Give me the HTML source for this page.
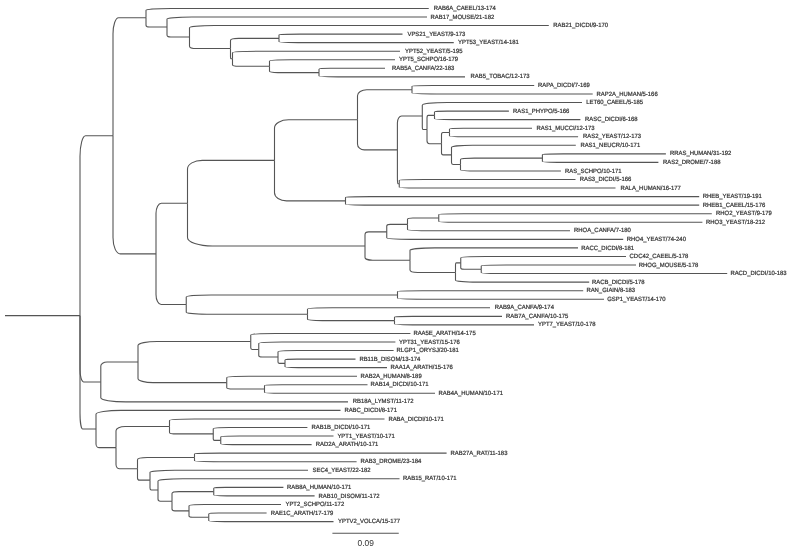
<!DOCTYPE html><html><head><meta charset="utf-8"><style>html,body{margin:0;padding:0;background:#fff;}svg{display:block;filter:blur(0.4px)}</style></head><body>
<svg width="800" height="548" viewBox="0 0 800 548">
<rect width="800" height="548" fill="#fff"/>
<g fill="none" stroke="#555" stroke-width="1.1">
<path d="M80.00,315.59V156.40C80.00,145.08 82.52,135.82 85.61,135.82H113.00"/>
<path d="M80.00,315.59V369.30C80.00,376.25 81.59,381.94 83.54,381.94H100.80"/>
<path d="M80.00,315.59V413.07C80.00,421.84 81.22,429.01 82.72,429.01H96.00"/>
<path d="M113.00,135.82V34.01C113.00,25.07 115.52,17.75 118.61,17.75H146.00"/>
<path d="M113.00,135.82V237.62C113.00,246.56 116.29,253.88 120.31,253.88H156.00"/>
<path d="M146.00,17.75V10.32C146.00,9.30 157.25,8.46 171.00,8.46H428.75"/>
<path d="M146.00,17.75V25.18C146.00,26.20 147.61,27.03 149.57,27.03H167.00"/>
<path d="M167.00,27.03V19.02C167.00,17.91 178.25,17.01 192.00,17.01H427.00"/>
<path d="M167.00,27.03V35.05C167.00,36.15 168.72,37.06 170.82,37.06H189.50"/>
<path d="M189.50,37.06V27.86C189.50,26.60 200.75,25.56 214.50,25.56H548.80"/>
<path d="M189.50,37.06V46.25C189.50,47.51 192.64,48.55 196.47,48.55H230.50"/>
<path d="M230.50,48.55V40.42C230.50,39.31 234.21,38.39 238.75,38.39H279.00"/>
<path d="M230.50,48.55V56.67C230.50,57.79 230.65,58.70 230.84,58.70H232.50"/>
<path d="M279.00,38.39V34.97C279.00,34.50 288.45,34.12 300.00,34.12H402.50"/>
<path d="M279.00,38.39V41.81C279.00,42.28 290.25,42.67 304.00,42.67H453.75"/>
<path d="M232.50,58.70V52.72C232.50,51.89 243.75,51.22 257.50,51.22H400.00"/>
<path d="M232.50,58.70V64.69C232.50,65.51 235.33,66.19 238.79,66.19H269.50"/>
<path d="M269.50,66.19V61.05C269.50,60.35 279.10,59.77 290.83,59.77H395.00"/>
<path d="M269.50,66.19V71.32C269.50,72.02 273.29,72.60 277.92,72.60H319.00"/>
<path d="M319.00,72.60V69.18C319.00,68.71 324.05,68.32 330.22,68.32H385.00"/>
<path d="M319.00,72.60V76.02C319.00,76.49 330.17,76.88 343.82,76.88H465.00"/>
<path d="M156.00,253.88V213.33C156.00,207.76 158.41,203.19 161.35,203.19H187.50"/>
<path d="M156.00,253.88V294.44C156.00,300.01 158.31,304.57 161.14,304.57H186.25"/>
<path d="M187.50,203.19V168.91C187.50,164.20 194.16,160.34 202.29,160.34H274.50"/>
<path d="M187.50,203.19V237.47C187.50,242.19 198.75,246.05 212.50,246.05H365.00"/>
<path d="M274.50,160.34V127.91C274.50,123.45 280.85,119.80 288.61,119.80H357.50"/>
<path d="M274.50,160.34V192.77C274.50,197.23 279.93,200.88 286.57,200.88H345.50"/>
<path d="M357.50,119.80V95.72C357.50,92.41 361.67,89.70 366.76,89.70H412.00"/>
<path d="M357.50,119.80V143.88C357.50,147.19 360.55,149.90 364.28,149.90H397.40"/>
<path d="M412.00,89.70V86.28C412.00,85.81 421.35,85.43 432.77,85.43H534.20"/>
<path d="M412.00,89.70V93.12C412.00,93.60 423.25,93.98 437.00,93.98H592.70"/>
<path d="M397.40,149.90V122.80C397.40,119.08 399.30,116.03 401.63,116.03H422.30"/>
<path d="M397.40,149.90V177.00C397.40,180.73 397.54,183.78 397.71,183.78H399.25"/>
<path d="M422.30,116.03V105.23C422.30,103.75 433.55,102.53 447.30,102.53H582.00"/>
<path d="M422.30,116.03V126.83C422.30,128.31 422.66,129.52 423.10,129.52H427.00"/>
<path d="M427.00,129.52V118.19C427.00,116.63 427.57,115.36 428.27,115.36H434.50"/>
<path d="M427.00,129.52V140.86C427.00,142.41 428.11,143.69 429.46,143.69H441.50"/>
<path d="M434.50,115.36V111.94C434.50,111.47 440.19,111.08 447.15,111.08H508.90"/>
<path d="M434.50,115.36V118.78C434.50,119.25 445.66,119.64 459.30,119.64H580.40"/>
<path d="M441.50,143.69V134.71C441.50,133.47 442.11,132.46 442.86,132.46H449.50"/>
<path d="M441.50,143.69V152.67C441.50,153.90 442.26,154.91 443.20,154.91H451.50"/>
<path d="M449.50,132.46V129.04C449.50,128.57 455.81,128.19 463.52,128.19H532.00"/>
<path d="M449.50,132.46V135.88C449.50,136.36 459.34,136.74 471.36,136.74H578.10"/>
<path d="M451.50,154.91V147.22C451.50,146.16 461.01,145.29 472.63,145.29H575.80"/>
<path d="M451.50,154.91V162.61C451.50,163.67 452.19,164.53 453.03,164.53H460.50"/>
<path d="M460.50,164.53V159.40C460.50,158.70 466.77,158.12 474.42,158.12H542.40"/>
<path d="M460.50,164.53V169.67C460.50,170.37 468.18,170.95 477.57,170.95H560.90"/>
<path d="M542.40,158.12V154.70C542.40,154.23 551.85,153.84 563.39,153.84H665.90"/>
<path d="M542.40,158.12V161.54C542.40,162.01 551.27,162.40 562.12,162.40H658.40"/>
<path d="M399.25,183.78V180.36C399.25,179.88 410.50,179.50 424.25,179.50H575.50"/>
<path d="M399.25,183.78V187.20C399.25,187.67 410.50,188.05 424.25,188.05H615.50"/>
<path d="M345.50,200.88V197.46C345.50,196.99 356.75,196.60 370.50,196.60H699.20"/>
<path d="M345.50,200.88V204.30C345.50,204.77 356.75,205.16 370.50,205.16H699.20"/>
<path d="M365.00,246.05V234.71C365.00,233.16 366.66,231.88 368.70,231.88H386.75"/>
<path d="M365.00,246.05V257.38C365.00,258.93 368.44,260.21 372.65,260.21H410.00"/>
<path d="M386.75,231.88V225.89C386.75,225.07 388.34,224.40 390.28,224.40H407.50"/>
<path d="M386.75,231.88V237.87C386.75,238.69 398.00,239.36 411.75,239.36H623.20"/>
<path d="M407.50,224.40V219.27C407.50,218.56 409.89,217.98 412.81,217.98H438.75"/>
<path d="M407.50,224.40V229.53C407.50,230.23 418.75,230.81 432.50,230.81H570.00"/>
<path d="M438.75,217.98V214.56C438.75,214.09 450.00,213.71 463.75,213.71H711.80"/>
<path d="M438.75,217.98V221.40C438.75,221.88 450.00,222.26 463.75,222.26H702.40"/>
<path d="M410.00,260.21V250.37C410.00,249.02 421.25,247.92 435.00,247.92H578.00"/>
<path d="M410.00,260.21V270.04C410.00,271.40 413.48,272.50 417.74,272.50H455.50"/>
<path d="M455.50,272.50V264.81C455.50,263.75 455.90,262.88 456.39,262.88H460.75"/>
<path d="M455.50,272.50V280.20C455.50,281.26 465.73,282.12 478.23,282.12H589.20"/>
<path d="M460.75,262.88V257.75C460.75,257.05 472.00,256.47 485.75,256.47H626.00"/>
<path d="M460.75,262.88V268.01C460.75,268.72 462.32,269.30 464.24,269.30H481.25"/>
<path d="M481.25,269.30V265.88C481.25,265.40 492.50,265.02 506.25,265.02H636.00"/>
<path d="M481.25,269.30V272.72C481.25,273.19 492.50,273.57 506.25,273.57H727.20"/>
<path d="M186.25,304.57V296.88C186.25,295.82 197.50,294.95 211.25,294.95H397.50"/>
<path d="M186.25,304.57V312.27C186.25,313.33 195.53,314.19 206.86,314.19H307.50"/>
<path d="M397.50,294.95V291.53C397.50,291.06 408.75,290.68 422.50,290.68H583.20"/>
<path d="M397.50,294.95V298.37C397.50,298.84 408.75,299.23 422.50,299.23H604.00"/>
<path d="M307.50,314.19V309.06C307.50,308.36 318.75,307.78 332.50,307.78H490.00"/>
<path d="M307.50,314.19V319.33C307.50,320.03 314.16,320.61 322.29,320.61H394.50"/>
<path d="M394.50,320.61V317.19C394.50,316.72 402.72,316.33 412.77,316.33H502.00"/>
<path d="M394.50,320.61V324.03C394.50,324.50 405.17,324.88 418.22,324.88H534.00"/>
<path d="M100.80,381.94V366.01C100.80,363.82 103.65,362.03 107.12,362.03H138.00"/>
<path d="M100.80,381.94V397.87C100.80,400.06 112.05,401.85 125.80,401.85H348.00"/>
<path d="M138.00,362.03V345.57C138.00,343.31 146.63,341.45 157.17,341.45H250.75"/>
<path d="M138.00,362.03V378.49C138.00,380.76 144.79,382.61 153.09,382.61H226.75"/>
<path d="M250.75,341.45V335.04C250.75,334.16 262.00,333.44 275.75,333.44H410.40"/>
<path d="M250.75,341.45V347.87C250.75,348.75 251.36,349.47 252.11,349.47H258.75"/>
<path d="M258.75,349.47V343.48C258.75,342.66 269.20,341.99 281.98,341.99H395.40"/>
<path d="M258.75,349.47V355.46C258.75,356.28 260.22,356.95 262.02,356.95H278.00"/>
<path d="M278.00,356.95V351.82C278.00,351.12 286.84,350.54 297.65,350.54H393.60"/>
<path d="M278.00,356.95V362.09C278.00,362.79 278.54,363.37 279.19,363.37H285.00"/>
<path d="M285.00,363.37V359.95C285.00,359.48 290.39,359.09 296.99,359.09H355.50"/>
<path d="M285.00,363.37V366.79C285.00,367.26 292.80,367.64 302.34,367.64H387.00"/>
<path d="M226.75,382.61V377.48C226.75,376.77 236.71,376.20 248.89,376.20H357.00"/>
<path d="M226.75,382.61V387.74C226.75,388.45 229.64,389.02 233.17,389.02H264.50"/>
<path d="M264.50,389.02V385.60C264.50,385.13 272.38,384.75 282.01,384.75H367.50"/>
<path d="M264.50,389.02V392.44C264.50,392.92 275.75,393.30 289.50,393.30H435.00"/>
<path d="M96.00,429.01V414.13C96.00,412.08 107.25,410.40 121.00,410.40H340.50"/>
<path d="M96.00,429.01V443.90C96.00,445.94 97.53,447.62 99.40,447.62H116.00"/>
<path d="M116.00,447.62V430.67C116.00,428.35 120.09,426.44 125.09,426.44H169.50"/>
<path d="M116.00,447.62V464.56C116.00,466.89 117.64,468.80 119.66,468.80H137.50"/>
<path d="M169.50,426.44V420.45C169.50,419.63 180.75,418.96 194.50,418.96H384.50"/>
<path d="M169.50,426.44V432.43C169.50,433.25 172.85,433.92 176.94,433.92H213.25"/>
<path d="M213.25,433.92V428.79C213.25,428.09 220.45,427.51 229.26,427.51H307.40"/>
<path d="M213.25,433.92V439.05C213.25,439.76 213.82,440.34 214.53,440.34H220.75"/>
<path d="M220.75,440.34V436.92C220.75,436.44 229.38,436.06 239.92,436.06H333.50"/>
<path d="M220.75,440.34V443.76C220.75,444.23 227.70,444.61 236.19,444.61H311.60"/>
<path d="M137.50,468.80V459.71C137.50,458.46 141.86,457.44 147.19,457.44H194.50"/>
<path d="M137.50,468.80V477.88C137.50,479.13 138.46,480.16 139.62,480.16H150.00"/>
<path d="M194.50,457.44V454.02C194.50,453.55 205.75,453.16 219.50,453.16H446.60"/>
<path d="M194.50,457.44V460.86C194.50,461.33 205.75,461.72 219.50,461.72H356.60"/>
<path d="M150.00,480.16V472.25C150.00,471.16 161.25,470.27 175.00,470.27H308.00"/>
<path d="M150.00,480.16V488.07C150.00,489.15 150.61,490.04 151.36,490.04H158.00"/>
<path d="M158.00,490.04V481.06C158.00,479.83 169.25,478.82 183.00,478.82H399.50"/>
<path d="M158.00,490.04V499.02C158.00,500.26 159.07,501.27 160.38,501.27H172.00"/>
<path d="M172.00,501.27V493.57C172.00,492.51 175.19,491.65 179.10,491.65H213.75"/>
<path d="M172.00,501.27V508.97C172.00,510.02 173.30,510.89 174.89,510.89H189.00"/>
<path d="M213.75,491.65V488.23C213.75,487.76 219.08,487.37 225.59,487.37H283.40"/>
<path d="M213.75,491.65V495.07C213.75,495.54 221.47,495.92 230.89,495.92H314.60"/>
<path d="M189.00,510.89V505.76C189.00,505.05 196.04,504.48 204.64,504.48H281.00"/>
<path d="M189.00,510.89V516.02C189.00,516.73 190.51,517.30 192.36,517.30H208.75"/>
<path d="M208.75,517.30V513.88C208.75,513.41 213.18,513.03 218.58,513.03H266.60"/>
<path d="M208.75,517.30V520.72C208.75,521.20 218.29,521.58 229.96,521.58H333.50"/>
<path d="M5,315.59H80"/>
<path d="M332.4,533.3H398.75"/>
</g>
<g font-family="Liberation Sans, sans-serif" font-size="6.2" fill="#333" stroke="#333" stroke-width="0.22" dominant-baseline="central" text-rendering="geometricPrecision" transform="scale(0.955,1)">
<text x="454.19" y="8.56">RAB6A_CAEEL/13-174</text>
<text x="450.79" y="17.11">RAB17_MOUSE/21-182</text>
<text x="579.37" y="25.66">RAB21_DICDI/9-170</text>
<text x="426.70" y="34.22">VPS21_YEAST/9-173</text>
<text x="479.58" y="42.77">YPT53_YEAST/14-181</text>
<text x="424.08" y="51.32">YPT52_YEAST/5-195</text>
<text x="417.80" y="59.87">YPT5_SCHPO/16-179</text>
<text x="410.47" y="68.42">RAB5A_CANFA/22-183</text>
<text x="492.67" y="76.98">RAB5_TOBAC/12-173</text>
<text x="563.46" y="85.53">RAPA_DICDI/7-169</text>
<text x="624.71" y="94.08">RAP2A_HUMAN/5-166</text>
<text x="613.82" y="102.63">LET60_CAEEL/5-185</text>
<text x="537.28" y="111.18">RAS1_PHYPO/5-166</text>
<text x="612.57" y="119.74">RASC_DICDI/6-168</text>
<text x="561.78" y="128.29">RAS1_MUCCI/12-173</text>
<text x="610.47" y="136.84">RAS2_YEAST/12-173</text>
<text x="607.75" y="145.39">RAS1_NEUCR/10-171</text>
<text x="701.57" y="153.94">RRAS_HUMAN/31-192</text>
<text x="694.24" y="162.50">RAS2_DROME/7-188</text>
<text x="591.73" y="171.05">RAS_SCHPO/10-171</text>
<text x="607.02" y="179.60">RAS3_DICDI/5-166</text>
<text x="649.63" y="188.15">RALA_HUMAN/16-177</text>
<text x="735.92" y="196.70">RHEB_YEAST/19-191</text>
<text x="735.92" y="205.26">RHEB1_CAEEL/15-176</text>
<text x="749.74" y="213.81">RHO2_YEAST/9-179</text>
<text x="739.27" y="222.36">RHO3_YEAST/18-212</text>
<text x="601.05" y="230.91">RHOA_CANFA/7-180</text>
<text x="656.34" y="239.46">RHO4_YEAST/74-240</text>
<text x="608.59" y="248.02">RACC_DICDI/8-181</text>
<text x="659.27" y="256.57">CDC42_CAEEL/5-178</text>
<text x="668.90" y="265.12">RHOG_MOUSE/5-178</text>
<text x="764.82" y="273.67">RACD_DICDI/10-183</text>
<text x="619.90" y="282.22">RACB_DICDI/5-178</text>
<text x="614.03" y="290.78">RAN_GIAIN/8-183</text>
<text x="635.81" y="299.33">GSP1_YEAST/14-170</text>
<text x="518.12" y="307.88">RAB9A_CANFA/9-174</text>
<text x="529.84" y="316.43">RAB7A_CANFA/10-175</text>
<text x="563.35" y="324.98">YPT7_YEAST/10-178</text>
<text x="432.88" y="333.54">RAA5E_ARATH/14-175</text>
<text x="417.80" y="342.09">YPT31_YEAST/15-176</text>
<text x="415.29" y="350.64">RLGP1_ORYSJ/20-181</text>
<text x="376.34" y="359.19">RB11B_DISOM/13-174</text>
<text x="409.01" y="367.74">RAA1A_ARATH/15-176</text>
<text x="377.59" y="376.30">RAB2A_HUMAN/8-189</text>
<text x="387.96" y="384.85">RAB14_DICDI/10-171</text>
<text x="459.27" y="393.40">RAB4A_HUMAN/10-171</text>
<text x="369.42" y="401.95">RB18A_LYMST/11-172</text>
<text x="360.63" y="410.50">RABC_DICDI/8-171</text>
<text x="406.70" y="419.06">RABA_DICDI/10-171</text>
<text x="326.28" y="427.61">RAB1B_DICDI/10-171</text>
<text x="353.30" y="436.16">YPT1_YEAST/10-171</text>
<text x="330.68" y="444.71">RAD2A_ARATH/10-171</text>
<text x="471.73" y="453.26">RAB27A_RAT/11-183</text>
<text x="377.49" y="461.82">RAB3_DROME/23-184</text>
<text x="327.23" y="470.37">SEC4_YEAST/22-182</text>
<text x="422.09" y="478.92">RAB15_RAT/10-171</text>
<text x="300.52" y="487.47">RAB8A_HUMAN/10-171</text>
<text x="333.51" y="496.02">RAB10_DISOM/11-172</text>
<text x="298.95" y="504.58">YPT2_SCHPO/11-172</text>
<text x="283.56" y="513.13">RAE1C_ARATH/17-179</text>
<text x="353.93" y="521.68">YPTV2_VOLCA/15-177</text>
</g>
<text x="357.5" y="543.0" font-family="Liberation Sans, sans-serif" font-size="8.4" fill="#333" dominant-baseline="central">0.09</text>
</svg></body></html>
